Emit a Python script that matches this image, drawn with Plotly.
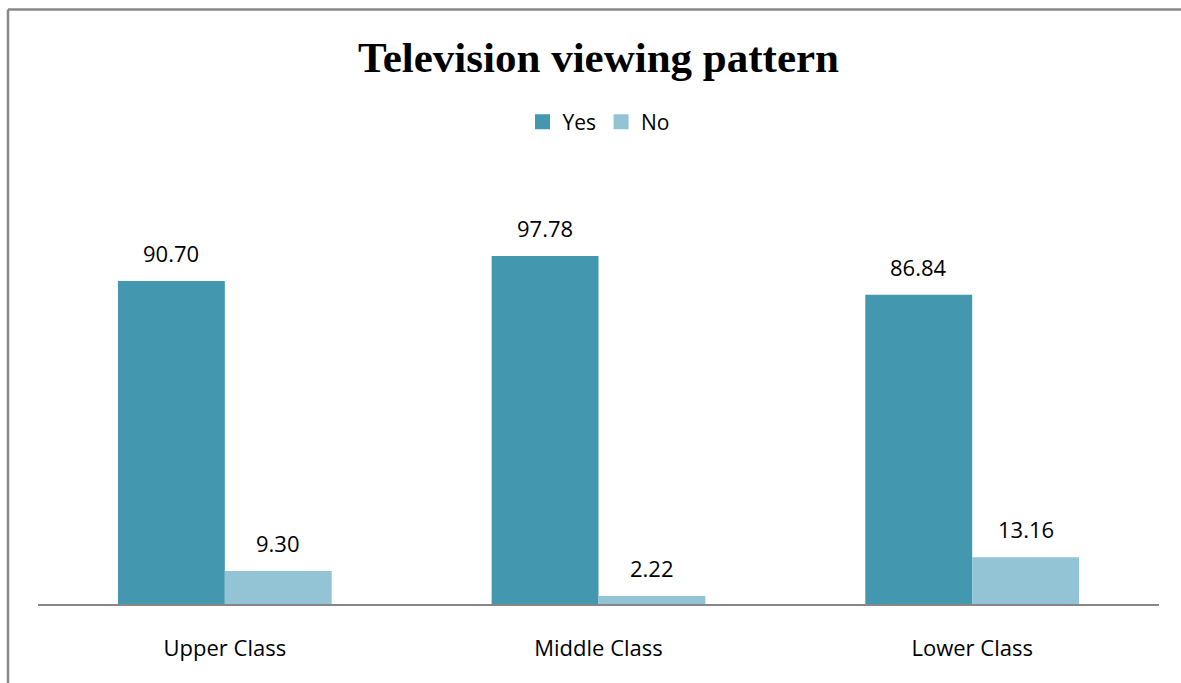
import plotly.graph_objects as go

categories = ["Upper Class", "Middle Class", "Lower Class"]
yes_values = [90.70, 97.78, 86.84]
no_values = [9.30, 2.22, 13.16]

YES_COLOR = "#4398B0"
NO_COLOR = "#93C4D5"
LABEL_FONT = dict(family="Open Sans", size=22, color="#000000")
LEGEND_FONT = dict(family="Open Sans", size=21, color="#000000")

W, H = 1181, 683
margin = dict(l=38, r=22, t=248, b=79)
plot_w = W - margin["l"] - margin["r"]
plot_h = H - margin["t"] - margin["b"]

fig = go.Figure()
fig.add_trace(go.Bar(name="Yes", x=list(range(len(categories))), y=yes_values,
                     marker=dict(color=YES_COLOR, line=dict(width=0)), showlegend=False))
fig.add_trace(go.Bar(name="No", x=list(range(len(categories))), y=no_values,
                     marker=dict(color=NO_COLOR, line=dict(width=0)), showlegend=False))
# legend entries with larger square swatches
for name, color in (("Yes", YES_COLOR), ("No", NO_COLOR)):
    fig.add_trace(go.Scatter(name=name, x=[None], y=[None], mode="markers",
                             marker=dict(symbol="square", size=15, color=color)))

bargap = 0.428
half = (1 - bargap) / 4  # centre offset of each bar within its group

annotations = []
for i in range(len(categories)):
    for val, dx in ((yes_values[i], -half), (no_values[i], half)):
        annotations.append(dict(x=i + dx, y=val, xref="x", yref="y",
                                text=f"{val:.2f}", showarrow=False,
                                yanchor="middle", yshift=28, font=LABEL_FONT))

# frame lines along the top and left edges of the chart area
px = lambda p: (p - margin["l"]) / plot_w
py = lambda p: (H - margin["b"] - p) / plot_h
shapes = [
    dict(type="line", xref="paper", yref="paper", x0=px(8), x1=px(1181), y0=py(9.5), y1=py(9.5),
         line=dict(color="#888888", width=2.5)),
    dict(type="line", xref="paper", yref="paper", x0=px(8), x1=px(8), y0=py(9.5), y1=py(683),
         line=dict(color="#888888", width=2.5)),
]

fig.update_layout(
    width=W, height=H, margin=margin,
    paper_bgcolor="white", plot_bgcolor="white",
    barmode="group", bargap=bargap, bargroupgap=0,
    title=dict(text="<b>Television viewing pattern</b>", x=0.5, xref="paper",
               y=1 - 57 / H, yref="container", yanchor="middle", xanchor="center",
               font=dict(family="Liberation Serif", size=43, color="#000000")),
    legend=dict(orientation="h", x=0.5, xanchor="center", y=py(122), yanchor="middle",
                font=LEGEND_FONT, itemwidth=30, traceorder="normal"),
    annotations=annotations,
    shapes=shapes,
    showlegend=True,
)
fig.update_xaxes(tickmode="array", tickvals=list(range(len(categories))), ticktext=categories,
                 range=[-0.5, len(categories) - 0.5], showline=True, linecolor="#868686",
                 linewidth=2, showgrid=False, zeroline=False, ticks="outside", ticklen=24,
                 tickcolor="rgba(0,0,0,0)", tickfont=LABEL_FONT)
fig.update_yaxes(range=[0, 100], visible=False, showgrid=False, zeroline=False)

fig.write_html("out.html")
